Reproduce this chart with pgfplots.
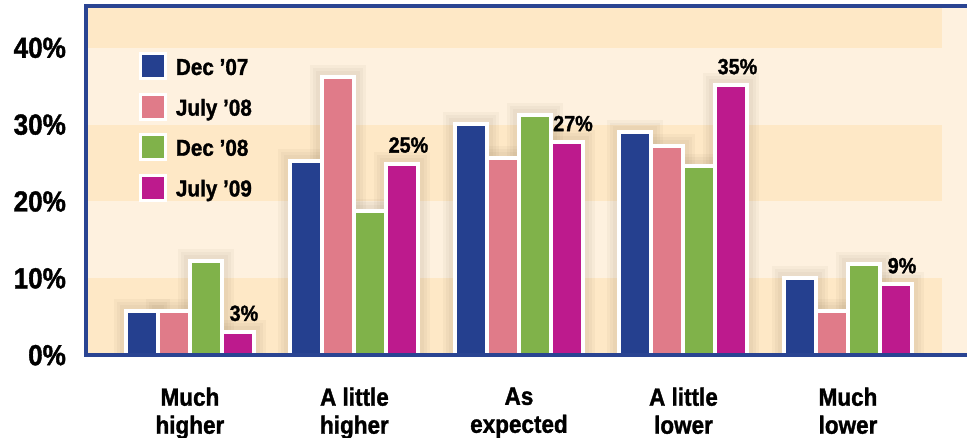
\documentclass[border=0pt]{standalone}
\usepackage{fontspec}
\setmainfont{Liberation Sans}[FakeStretch=0.9, BoldFeatures={FakeBold=1.3}]
\usepackage{pgfplots}
\usepackage{pgfplotstable}
\pgfplotsset{compat=1.18}
\definecolor{cblue}{HTML}{25408F}
\definecolor{cpink}{HTML}{E07B89}
\definecolor{cgreen}{HTML}{80B24A}
\definecolor{cmag}{HTML}{BD1A8D}
\definecolor{cframe}{HTML}{2A4492}
\definecolor{cbg}{HTML}{FEF1DF}
\definecolor{cband}{HTML}{FEE8C6}
\definecolor{cshadow}{HTML}{6B5536}
\pgfplotstableread{
x y
0 5.8
1 25.3
2 30.1
3 29.0
4 10.0
}\dblue
\pgfplotstableread{
x y
0 5.8
1 36.2
2 25.6
3 27.2
4 5.8
}\dpink
\pgfplotstableread{
x y
0 12.2
1 18.7
2 31.2
3 24.6
4 11.9
}\dgreen
\pgfplotstableread{
x y lab
0 3.0 3
1 24.9 25
2 27.7 27
3 35.1 35
4 9.2 9
}\dmag
\pgfplotsset{
  shad/.style={forget plot, fill=none, draw=cshadow, draw opacity=0.045, line width=#1},
}
\begin{document}
\begin{tikzpicture}
\begin{axis}[
  name=ax,
  scale only axis, width=440.35pt, height=174.6pt,
  xmin=-0.630, xmax=4.7234, ymin=0, ymax=45.44,
  ybar=0pt, bar width=16pt,
  axis line style={draw=none},
  xtick={0,1,2,3,4},
  xticklabels={{Much\\higher},{A little\\higher},{As\\expected},{A little\\lower},{Much\\lower}},
  x tick label style={align=center, font=\fontsize{12.5}{14}\selectfont\bfseries, inner sep=0pt, anchor=north, yshift=-16pt},
  ytick={0,10,20,30,40},
  yticklabels={0\%,10\%,20\%,30\%,40\%},
  y tick label style={font=\fontsize{14.5}{16}\selectfont\bfseries, inner sep=0pt, anchor=east, xshift=-10pt},
  major tick length=0pt,
  clip=false,
  legend cell align=left,
  legend style={at={(0.0593,0.8682)}, anchor=north west, draw=none, fill=none,
    inner sep=0pt, row sep=6.2pt, nodes={inner sep=0pt},
    font=\fontsize{11.5}{13}\selectfont\bfseries,
    /tikz/every odd column/.append style={column sep=4.5pt}},
]
\fill[cbg] (rel axis cs:0,0) rectangle (rel axis cs:1,1);
\fill[cband] (axis cs:-0.63,0) rectangle (axis cs:4.571,10);
\fill[cband] (axis cs:-0.63,20) rectangle (axis cs:4.571,30);
\fill[cband] (axis cs:-0.63,40) rectangle (axis cs:4.571,45.44);

\addlegendimage{legend image code/.code={\draw[fill=cblue,draw=white,line width=1.5pt] (0pt,-5.25pt) rectangle (12.5pt,7.25pt);}}
\addlegendimage{legend image code/.code={\draw[fill=cpink,draw=white,line width=1.5pt] (0pt,-5.25pt) rectangle (12.5pt,7.25pt);}}
\addlegendimage{legend image code/.code={\draw[fill=cgreen,draw=white,line width=1.5pt] (0pt,-5.25pt) rectangle (12.5pt,7.25pt);}}
\addlegendimage{legend image code/.code={\draw[fill=cmag,draw=white,line width=1.5pt] (0pt,-5.25pt) rectangle (12.5pt,7.25pt);}}

% soft shadows
\addplot[shad=12pt, bar shift=-24pt] table[x=x,y=y] {\dblue};
\addplot[shad=12pt, bar shift=-8pt] table[x=x,y=y] {\dpink};
\addplot[shad=12pt, bar shift=8pt] table[x=x,y=y] {\dgreen};
\addplot[shad=12pt, bar shift=24pt] table[x=x,y=y] {\dmag};
\addplot[shad=9pt, bar shift=-24pt] table[x=x,y=y] {\dblue};
\addplot[shad=9pt, bar shift=-8pt] table[x=x,y=y] {\dpink};
\addplot[shad=9pt, bar shift=8pt] table[x=x,y=y] {\dgreen};
\addplot[shad=9pt, bar shift=24pt] table[x=x,y=y] {\dmag};
\addplot[shad=6pt, bar shift=-24pt] table[x=x,y=y] {\dblue};
\addplot[shad=6pt, bar shift=-8pt] table[x=x,y=y] {\dpink};
\addplot[shad=6pt, bar shift=8pt] table[x=x,y=y] {\dgreen};
\addplot[shad=6pt, bar shift=24pt] table[x=x,y=y] {\dmag};
\fill[white] (axis cs:-0.63,0) rectangle (axis cs:4.7234,-3.5);

\addplot[fill=cblue, draw=white, line width=2pt, bar shift=-24pt] table[x=x,y=y] {\dblue};
\addplot[fill=cpink, draw=white, line width=2pt, bar shift=-8pt] table[x=x,y=y] {\dpink};
\addplot[fill=cgreen, draw=white, line width=2pt, bar shift=8pt] table[x=x,y=y] {\dgreen};
\addplot[fill=cmag, draw=white, line width=2pt, bar shift=24pt,
  nodes near coords={\pgfplotspointmeta\%}, point meta=explicit symbolic,
  every node near coord/.append style={font=\fontsize{11}{13}\selectfont\bfseries, text=black, inner sep=0pt, anchor=south, xshift=3pt, yshift=4.5pt}]
  table[x=x,y=y,meta=lab] {\dmag};

\draw[cframe, line width=2pt, line join=miter] (rel axis cs:1,1) -- (rel axis cs:0,1) -- (rel axis cs:0,0) -- (rel axis cs:1,0);
\legend{Dec ’07, July ’08, Dec ’08, July ’09}
\end{axis}
\pgfresetboundingbox
\path[use as bounding box] ([shift={(-43.15pt,-41.4pt)}]ax.south west) rectangle ([shift={(0pt,177.6pt)}]ax.south east);
\end{tikzpicture}
\end{document}
